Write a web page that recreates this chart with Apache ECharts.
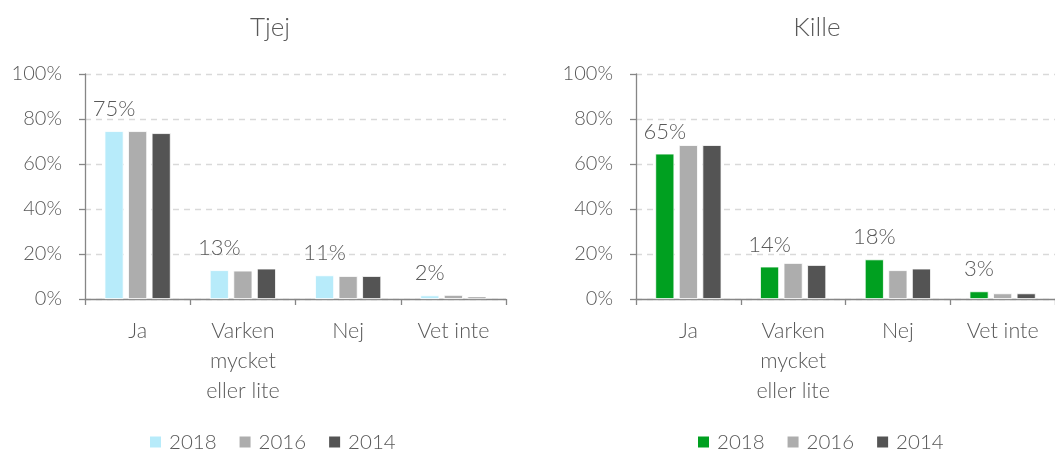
<!DOCTYPE html>
<html>
<head>
<meta charset="utf-8">
<script src="https://cdn.jsdelivr.net/npm/echarts@6/dist/echarts.min.js"></script>
<style>html,body{margin:0;padding:0;background:#fff}#c{width:1055px;height:450px}</style>
</head>
<body>
<div id="c"></div>
<script>
const categories = ['Ja', 'Varken\nmycket\neller lite', 'Nej', 'Vet inte'];
const years = ['2018', '2016', '2014'];
const tjej2018 = [74.6, 12.8, 10.5, 1.6];
const tjej2016 = [74.6, 12.6, 10.2, 1.8];
const tjej2014 = [73.7, 13.5, 10.2, 1.0];
const kille2018 = [64.6, 14.4, 17.6, 3.4];
const kille2016 = [68.4, 16.0, 12.8, 2.5];
const kille2014 = [68.4, 15.1, 13.5, 2.5];
const yTicks = [0, 20, 40, 60, 80, 100];

const FONT = 'Lato';
const TXT = '#595959';
const AXIS = '#868686';
const cTjej = ['#b7ebfa', '#adadad', '#545454'];
const cKille = ['#00a020', '#adadad', '#545454'];

function xAx(gi) {
  return {
    type: 'category', gridIndex: gi, data: categories,
    axisLine: {lineStyle: {color: AXIS, width: 1.3}},
    axisTick: {show: true, length: 6, lineStyle: {color: AXIS, width: 1.3}},
    axisLabel: {color: TXT, fontFamily: FONT, fontSize: 21.5, fontWeight: 300, lineHeight: 30, margin: 17, interval: 0}
  };
}
function yAx(gi) {
  return {
    type: 'value', gridIndex: gi, min: yTicks[0], max: yTicks[yTicks.length - 1], interval: 20,
    axisLine: {show: true, lineStyle: {color: AXIS, width: 1.3}},
    axisTick: {show: true, length: 6, lineStyle: {color: AXIS, width: 1.3}},
    axisLabel: {color: TXT, fontFamily: FONT, fontSize: 20, fontWeight: 300, margin: 23, formatter: '{value}%'},
    splitLine: {show: true, lineStyle: {color: '#d9d9d9', type: [6, 5], width: 1.3}}
  };
}
function bar(name, data, color, gi, withLabel) {
  return {
    type: 'bar', name: name, data: data, xAxisIndex: gi, yAxisIndex: gi,
    barWidth: 19, barGap: '24%',
    itemStyle: {color: color, borderColor: '#ffffff', borderWidth: 0.8},
    label: withLabel ? {show: true, position: 'top', distance: 11, color: TXT, fontFamily: FONT, fontSize: 22, fontWeight: 300,
      formatter: p => Math.round(p.value) + '%'} : {show: false},
    emphasis: {disabled: true}, silent: true, animation: false
  };
}
function legend(left, names) {
  return {
    left: left, top: 431, itemWidth: 13, itemHeight: 13, itemGap: 21, icon: 'rect',
    data: names, selectedMode: false, padding: 0,
    formatter: n => n.replace('K', ''),
    textStyle: {color: TXT, fontFamily: FONT, fontSize: 20.5, fontWeight: 300, lineHeight: 22, padding: [0, 0, 0, 2]}
  };
}

const chart = echarts.init(document.getElementById('c'), null, {renderer: 'canvas'});
chart.setOption({
  animation: false,
  title: [
    {text: 'Tjej', left: 265, top: 10, textAlign: 'center', textStyle: {color: TXT, fontFamily: FONT, fontSize: 26, fontWeight: 300}},
    {text: 'Kille', left: 812, top: 10, textAlign: 'center', textStyle: {color: TXT, fontFamily: FONT, fontSize: 26, fontWeight: 300}}
  ],
  grid: [
    {left: 85, right: 549, top: 74, bottom: 151, containLabel: false},
    {left: 636, right: -5, top: 74, bottom: 151, containLabel: false}
  ],
  xAxis: [xAx(0), xAx(1)],
  yAxis: [yAx(0), yAx(1)],
  legend: [legend(148, years), legend(696, years.map(y => 'K' + y))],
  series: [
    bar(years[0], tjej2018, cTjej[0], 0, true),
    bar(years[1], tjej2016, cTjej[1], 0, false),
    bar(years[2], tjej2014, cTjej[2], 0, false),
    bar('K' + years[0], kille2018, cKille[0], 1, true),
    bar('K' + years[1], kille2016, cKille[1], 1, false),
    bar('K' + years[2], kille2014, cKille[2], 1, false)
  ]
});
</script>
</body>
</html>
